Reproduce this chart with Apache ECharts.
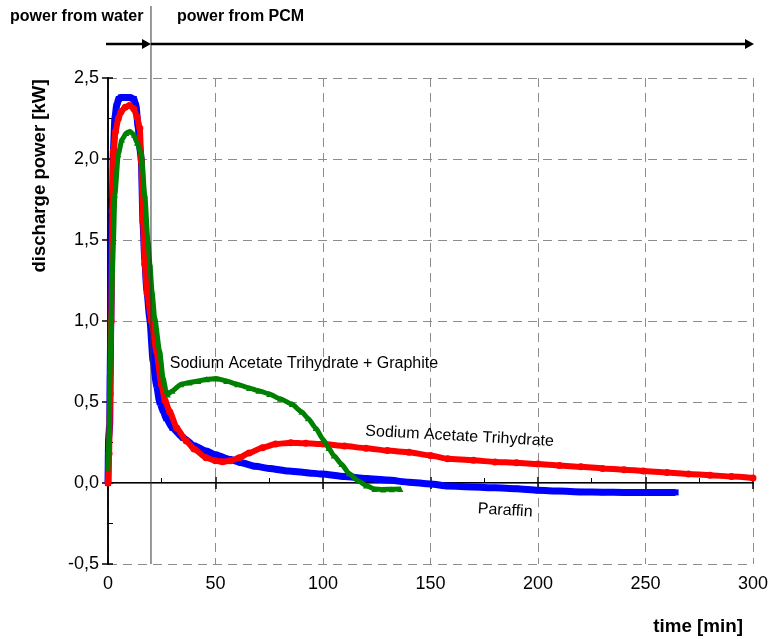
<!DOCTYPE html>
<html><head><meta charset="utf-8">
<script src="https://cdn.jsdelivr.net/npm/echarts@6/dist/echarts.min.js"></script>
<style>html,body{margin:0;padding:0;background:#fff}#c{width:771px;height:639px}</style>
</head><body><div id="c"></div>
<script>
// ---- data (time [min], discharge power [kW]) ----
const paraffin = [[0,0],[0.3,0.28],[0.8,0.36],[1.0,0.67],[1.3,1.0],[1.6,1.3],[2.0,1.7],[2.5,2.05],[3.2,2.25],[4,2.33],[5,2.37],[6,2.38],[8,2.38],[10,2.38],[12,2.37],[13,2.33],[14,2.2],[15,2.05],[15.5,1.99],[16.3,1.6],[17.1,1.38],[18,1.2],[19.4,1.02],[21,0.75],[22.5,0.61],[24,0.5],[25.5,0.45],[27.1,0.40],[30,0.34],[34.8,0.28],[40,0.23],[45.6,0.198],[50,0.175],[56.4,0.146],[62,0.125],[68.7,0.103],[75,0.09],[84,0.074],[92,0.064],[99.5,0.055],[110,0.04],[120,0.028],[130,0.018],[140,0.005],[150,-0.006],[158,-0.019],[170,-0.025],[180,-0.03],[190,-0.035],[200,-0.045],[210,-0.05],[220,-0.055],[230,-0.057],[240,-0.058],[250,-0.058],[258,-0.058],[264,-0.058]];
const sodiumAcetate = [[0,0],[0.5,0.18],[1,0.55],[1.5,1.0],[2.1,1.68],[2.5,2.05],[3.5,2.17],[4.8,2.25],[6,2.29],[8,2.32],[10,2.33],[12,2.31],[13.5,2.26],[14.8,2.19],[15.5,1.99],[16.3,1.62],[17.1,1.35],[18.2,1.17],[20.2,1.0],[22.5,0.815],[24.8,0.61],[26.5,0.51],[28.7,0.44],[32,0.34],[36.4,0.26],[40,0.21],[45.6,0.156],[50,0.137],[53.3,0.131],[57,0.138],[61,0.156],[65.6,0.185],[71.8,0.218],[78,0.24],[85,0.249],[92,0.245],[100,0.24],[110,0.228],[120,0.215],[130,0.2],[140,0.19],[150,0.17],[158,0.15],[170,0.14],[180,0.13],[190,0.125],[200,0.117],[210,0.108],[220,0.1],[230,0.09],[240,0.082],[249,0.074],[260,0.065],[270,0.056],[280,0.048],[290,0.04],[300,0.031]];
const sodiumAcetateGraphite = [[0,0.09],[0.5,0.3],[1,0.7],[1.5,1.05],[2.5,1.49],[3.2,1.78],[4.8,2.03],[6.5,2.12],[8.5,2.16],[10.2,2.17],[12,2.15],[13.5,2.1],[15.5,2.03],[17.1,1.78],[18.6,1.49],[19.5,1.35],[20.5,1.18],[21.7,1.02],[24,0.815],[25.6,0.65],[27,0.57],[27.8,0.547],[30,0.57],[34,0.61],[37.9,0.62],[42,0.63],[46,0.64],[50.2,0.645],[55,0.63],[60,0.61],[65.6,0.587],[70,0.57],[75,0.55],[80,0.52],[85.5,0.487],[90,0.44],[93,0.4],[96.6,0.34],[100,0.27],[102.6,0.216],[105,0.17],[108.6,0.117],[112,0.06],[116.5,0.012],[120,-0.015],[124,-0.037],[128,-0.04],[132,-0.038],[136,-0.037]];
const seriesNames = ['Paraffin','Sodium Acetate Trihydrate','Sodium Acetate Trihydrate + Graphite'];
const xTicks = [0,50,100,150,200,250,300];
const yTicks = [-0.5,0,0.5,1.0,1.5,2.0,2.5];
const phaseSwitch = 20; // min
const phaseLabels = ['power from water','power from PCM'];
const labelAnchors = [[28.7,0.74],[119.7,0.32],[172,-0.16]]; // Graphite, SAT, Paraffin

const FONT = 'Liberation Sans, Arial, sans-serif';
const chart = echarts.init(document.getElementById('c'));
const fmt = v => v.toFixed(1).replace('.', ',');
const dash = {color:'#8c8c8c', type:[9,6], width:1};
const baseX = {type:'value', min:xTicks[0], max:xTicks[xTicks.length-1], interval:50};
const baseY = {type:'value', min:yTicks[0], max:yTicks[yTicks.length-1], interval:0.5};

chart.setOption({
  animation:false,
  grid:{left:108, right:15, top:78, bottom:75},
  xAxis:[
    Object.assign({}, baseX, {position:'bottom',
      axisLine:{lineStyle:{color:'#000', width:2}},
      axisTick:{show:true, inside:false, length:6, lineStyle:{color:'#000', width:1.5}},
      axisLabel:{color:'#000', fontSize:18, fontFamily:FONT, margin:11},
      splitLine:{show:true, lineStyle:dash}}),
    Object.assign({}, baseX, {position:'bottom',
      axisLine:{show:false},
      axisTick:{show:true, inside:true, length:6, lineStyle:{color:'#000', width:1.5}},
      minorTick:{show:true, splitNumber:2, length:5, lineStyle:{color:'#000', width:1}},
      axisLabel:{show:false}, splitLine:{show:false}}),
    Object.assign({}, baseX, {position:'top',
      axisLine:{show:true, lineStyle:{color:'#666', width:1}},
      axisTick:{show:false}, axisLabel:{show:false}, splitLine:{show:false}})
  ],
  yAxis:[
    Object.assign({}, baseY, {position:'left',
      axisLine:{show:true, lineStyle:{color:'#000', width:1.5}},
      axisTick:{show:true, inside:false, length:6, lineStyle:{color:'#000', width:1.5}},
      axisLabel:{color:'#000', fontSize:18, fontFamily:FONT, margin:9, formatter:fmt},
      splitLine:{show:true, lineStyle:dash}}),
    Object.assign({}, baseY, {position:'left',
      axisLine:{show:false},
      axisTick:{show:true, inside:true, length:5, lineStyle:{color:'#000', width:1.5}},
      minorTick:{show:true, splitNumber:2, length:5, lineStyle:{color:'#000', width:1}},
      axisLabel:{show:false}, splitLine:{show:false}}),
    Object.assign({}, baseY, {position:'right',
      axisLine:{show:true, lineStyle:{color:'#000', width:1.5}},
      axisTick:{show:false}, axisLabel:{show:false}, splitLine:{show:false}})
  ],
  series:[
    {name:seriesNames[0], type:'line', data:paraffin, smooth:0.2, smoothMonotone:'x', z:3,
      symbol:'rect', symbolSize:6, itemStyle:{color:'#0000ff'},
      lineStyle:{color:'#0000ff', width:7}},
    {name:seriesNames[1], type:'line', data:sodiumAcetate, smooth:0.2, smoothMonotone:'x', z:4,
      symbol:'circle', symbolSize:7, itemStyle:{color:'#ff0000'},
      lineStyle:{color:'#ff0000', width:6}},
    {name:seriesNames[2], type:'line', data:sodiumAcetateGraphite, smooth:0.2, smoothMonotone:'x', z:5,
      symbol:'triangle', symbolSize:6, itemStyle:{color:'#008000'},
      lineStyle:{color:'#008000', width:5}}
  ]
});

const px = (x,y) => chart.convertToPixel({xAxisIndex:0, yAxisIndex:0}, [x,y]);
const p0 = px(xTicks[0], yTicks[0]);
const pEnd = px(xTicks[xTicks.length-1], yTicks[yTicks.length-1]);
const pSw = px(phaseSwitch, 0);
const arrowY = 44;
function arrow(x1, x2){
  return [
    {type:'line', shape:{x1:x1, y1:arrowY, x2:x2-6, y2:arrowY}, style:{stroke:'#000', lineWidth:2.5}, z:10},
    {type:'polygon', shape:{points:[[x2-9,arrowY-5],[x2,arrowY],[x2-9,arrowY+5]]}, style:{fill:'#000'}, z:10}
  ];
}
const la = labelAnchors.map(a => px(a[0], a[1]));
chart.setOption({graphic:[
  {type:'line', shape:{x1:pSw[0], y1:6, x2:pSw[0], y2:p0[1]}, style:{stroke:'#333', lineWidth:1}, z:10},
  ...arrow(p0[0]-2, pSw[0]),
  ...arrow(pSw[0], pEnd[0]+1),
  {type:'text', x:10, y:17, style:{text:phaseLabels[0], font:'bold 16px '+FONT, fill:'#000', verticalAlign:'middle'}},
  {type:'text', x:pSw[0]+26, y:17, style:{text:phaseLabels[1], font:'bold 16px '+FONT, fill:'#000', verticalAlign:'middle'}},
  {type:'text', x:40, y:176, rotation:Math.PI/2, style:{text:'discharge power [kW]', font:'bold 18.6px '+FONT, fill:'#000', align:'center', verticalAlign:'middle'}},
  {type:'text', x:743, y:627, style:{text:'time [min]', font:'bold 18.8px '+FONT, fill:'#000', align:'right', verticalAlign:'middle'}},
  {type:'text', x:la[0][0], y:la[0][1], style:{text:seriesNames[2], font:'16px '+FONT, fill:'#000', verticalAlign:'middle'}},
  {type:'text', x:la[1][0], y:la[1][1], rotation:-0.055, style:{text:seriesNames[1], font:'16px '+FONT, fill:'#000', verticalAlign:'middle'}},
  {type:'text', x:la[2][0], y:la[2][1], rotation:-0.06, style:{text:seriesNames[0], font:'16px '+FONT, fill:'#000', verticalAlign:'middle'}}
]});
</script></body></html>
